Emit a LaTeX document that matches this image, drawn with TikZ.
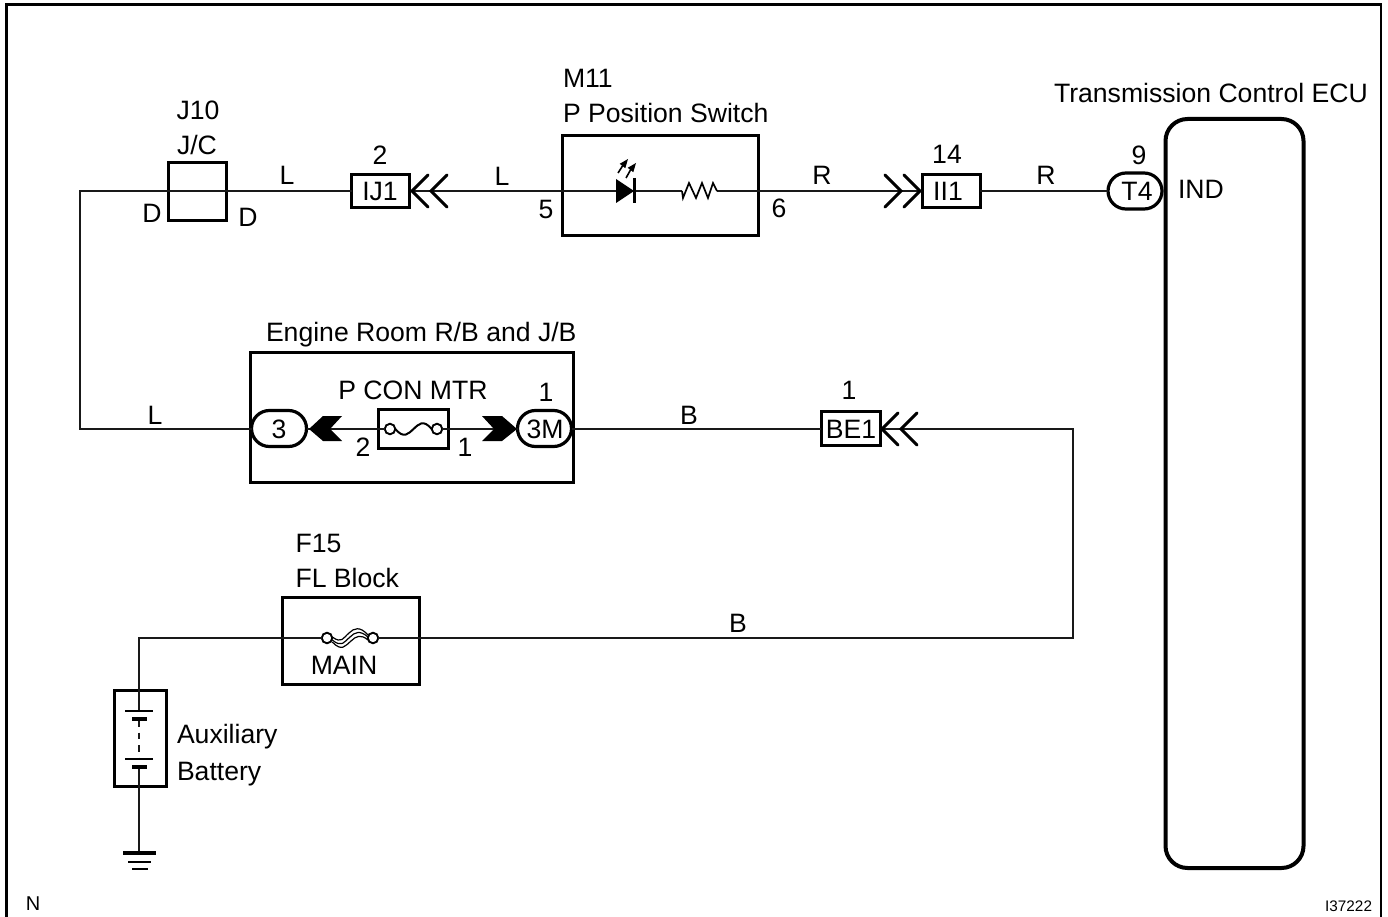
\documentclass[tikz,border=0pt]{standalone}
\usepackage{fontspec}
\setmainfont{Liberation Sans}
\usetikzlibrary{shapes.misc}
\newcommand{\chevL}[2]{\draw[chevline] (#1+16,#2-16) -- (#1,#2) -- (#1+16,#2+16);}
\newcommand{\chevR}[2]{\draw[chevline] (#1-16,#2-16) -- (#1,#2) -- (#1-16,#2+16);}
\tikzset{
  x=1pt,y=-1pt,
  wire/.style={line width=1.9pt,black!90},
  boxn/.style={draw,line width=3pt,outer sep=0pt,inner sep=0pt,rectangle},
  pill/.style={draw,line width=3.2pt,outer sep=0pt,inner sep=0pt,rounded rectangle,rounded rectangle arc length=180},
  lbl/.style={inner sep=0pt,outer sep=0pt,anchor=base,font=\fontsize{26.6}{26.6}\selectfont},
  lbll/.style={lbl,anchor=base west},
  chevline/.style={line width=3pt,line cap=round,line join=miter},
  fuseend/.style={draw,circle,line width=1.9pt,inner sep=0pt,minimum size=10.5pt,outer sep=0pt},
  plate/.style={line width=1.9pt},
  thickplate/.style={line width=4pt},
}
\begin{document}
\begin{tikzpicture}
\useasboundingbox (0,0) rectangle (1388,917);
% frame
\coordinate (fbl) at (6.5,917); \coordinate (ftl) at (6.5,4.5);
\coordinate (ftr) at (1381,4.5); \coordinate (fbr) at (1381,917);
\draw[line width=2.4pt,line join=miter] (fbl) -- (ftl) -- (ftr) -- (fbr);

% boxes
\node[boxn,minimum width=58pt,minimum height=58pt] (j10) at (197.5,191.5) {};
\node[boxn,minimum width=58pt,minimum height=33pt] (ij1) at (380.5,191) {};
\node[boxn,minimum width=196pt,minimum height=100pt] (m11) at (660.5,186) {};
\node[boxn,minimum width=58pt,minimum height=33pt] (ii1) at (951,191) {};
\node[boxn,line width=4pt,rounded corners=22pt,minimum width=138pt,minimum height=749pt] (ecu) at (1234.5,493.5) {};
\node[boxn,minimum width=323pt,minimum height=130pt] (engine) at (411.5,417.5) {};
\node[boxn,minimum width=70pt,minimum height=39pt] (pcon) at (413.5,428.5) {};
\node[boxn,minimum width=59pt,minimum height=34pt] (be1) at (850.5,428.5) {};
\node[boxn,minimum width=137pt,minimum height=87pt] (fl) at (350.5,641) {};
\node[boxn,minimum width=52pt,minimum height=96pt] (batt) at (140.5,738.5) {};
% pills
\node[pill,minimum width=54pt,minimum height=36pt] (t4) at (1135,191) {};
\node[pill,minimum width=55pt,minimum height=36pt] (p3) at (279,428.5) {};
\node[pill,minimum width=54pt,minimum height=36pt] (p3m) at (544.5,428.5) {};

% symbol anchor points
\coordinate (c1) at (80,191);
\coordinate (c2) at (80,429);
\coordinate (ledl) at (616,191);
\coordinate (ledr) at (634,191);
\coordinate (resl) at (682,191);
\coordinate (resr) at (717,191);
\coordinate (c3) at (1073,429);
\coordinate (c4) at (1073,638);
\coordinate (c5) at (139,638);
\coordinate (t1) at (139,711);
\coordinate (d1) at (139,720);
\coordinate (d2) at (139,759);
\coordinate (b2) at (139,767);
\coordinate (gnd) at (139,853);
\node[fuseend] (fa) at (390,429) {};
\node[fuseend] (fb) at (437,429) {};
\node[fuseend] (ma) at (327,638) {};
\node[fuseend] (mb) at (373,638) {};

% wires
\draw[wire] (j10.west |- c1) -- (j10.east |- c1) -- (ij1.west |- c1);
\draw[wire] (j10.west |- c1) -- (c1) -- (c2) -- (p3.west |- c2);
\draw[wire] (ij1.east |- c1) -- (ledl);
\draw[wire] (ledr) -- (resl);
\draw[wire] (resr) -- (ii1.west |- c1);
\draw[wire] (ii1.east |- c1) -- (t4.west |- c1);
\draw[wire] (p3.east |- c2) -- (fa.west);
\draw[wire] (fb.east) -- (p3m.west |- c2);
\draw[wire] (p3m.east |- c2) -- (be1.west |- c2);
\draw[wire] (be1.east |- c2) -- (c3) -- (c4) -- (mb.east);
\draw[wire] (ma.west) -- (c5) -- (t1);
\draw[wire] (b2) -- (gnd);
\draw[wire,dash pattern=on 6.5pt off 6pt] (d1) -- (d2);

% chevrons
\chevL{412}{191}\chevL{431}{191}
\chevR{920}{191}\chevR{901}{191}
\chevL{882}{429}\chevL{901}{429}
% filled arrows
\fill (309,429) -- (323,416) -- (342,416) -- (330,429) -- (342,441) -- (323,441) -- cycle;
\fill (517,429) -- (502,416) -- (482,416) -- (494,429) -- (482,441) -- (502,441) -- cycle;

% LED
\fill (ledl |- 0,179) -- (ledr) -- (ledl |- 0,203) -- cycle;
\draw[line width=3pt] (634,178) -- (634,203.5);
\draw[line width=1.6pt] (618,173) -- (622.5,166);
\fill (628,159) -- (619.7,163.8) -- (625.3,168.2) -- cycle;
\draw[line width=1.6pt] (626,178) -- (630.5,170);
\fill (636,163) -- (627.7,167.8) -- (633.3,172.2) -- cycle;
% resistor
\draw[line width=1.7pt,line join=miter] (resl) -- (683,198) -- (689,183) -- (696,198) -- (702,183) -- (708,198) -- (713,183) -- (resr);
% fuse links
\draw[line width=2pt] (fa.east) .. controls (404,439) and (408,434) .. (413.5,429) .. controls (419,424) and (423,419) .. (fb.west);
\draw[line width=1.2pt] (ma.east) ++(0,2) .. controls (342,648) and (344,642) .. (350,637) .. controls (355,632) and (360,630) .. (368,637);
\draw[line width=1.2pt] (ma.east) ++(0,4) .. controls (342,652) and (345,646) .. (351,641) .. controls (356,636) and (361,634) .. (368,640);
\draw[line width=1.2pt] (ma.east) ++(0,-1) .. controls (342,644) and (343,638) .. (349,633) .. controls (354,628) and (360,626) .. (368,635);

% battery
\draw[plate] (125,711) -- (153,711);
\draw[thickplate] (132,719) -- (147,719);
\draw[plate] (125,759) -- (153,759);
\draw[thickplate] (132,767) -- (147,767);
% ground
\draw[thickplate] (123,853) -- (156,853);
\draw[line width=2.4pt] (128,862) -- (151,862);
\draw[line width=2.4pt] (132,869) -- (148,869);

% labels
\node[lbl] (t01) at (198,119.5) {J10};
\node[lbl] (t02) at (197,154.5) {J/C};
\node[lbl] (t03) at (287,185) {L};
\node[lbl] (t04) at (152,223) {D};
\node[lbl] (t05) at (248,226) {D};
\node[lbl] (t06) at (380,164.5) {2};
\node[lbl] (t07) at (380,201) {IJ1};
\node[lbl] (t08) at (502,186) {L};
\node[lbl] (t09) at (546,218.5) {5};
\node[lbl] (t10) at (779,217.5) {6};
\node[lbl] (t11) at (822,185) {R};
\node[lbl] (t12) at (947,163.5) {14};
\node[lbl] (t13) at (948,201) {II1};
\node[lbl] (t14) at (1046,185) {R};
\node[lbl] (t15) at (1139,165) {9};
\node[lbl] (t16) at (1137,201) {T4};
\node[lbll] (t17) at (1054,102.5) {Transmission Control ECU};
\node[lbll] (t18) at (1178,198.5) {IND};
\node[lbll] (t19) at (563,88) {M11};
\node[lbll] (t20) at (563,123) {P Position Switch};
\node[lbll] (t21) at (266,341.5) {Engine Room R/B and J/B};
\node[lbl] (t22) at (413,399.5) {P CON MTR};
\node[lbl] (t23) at (546,401) {1};
\node[lbl] (t24) at (363,456.5) {2};
\node[lbl] (t25) at (465,456.5) {1};
\node[lbl] (t26) at (279,438) {3};
\node[lbl] (t27) at (545,438) {3M};
\node[lbl] (t28) at (155,424) {L};
\node[lbl] (t29) at (689,424) {B};
\node[lbl] (t30) at (849,399.5) {1};
\node[lbl] (t31) at (851,438) {BE1};
\node[lbll] (t32) at (295.5,552) {F15};
\node[lbll] (t33) at (295.5,587) {FL Block};
\node[lbl] (t34) at (344,674.5) {MAIN};
\node[lbl] (t35) at (738,632.5) {B};
\node[lbll] (t36) at (177,743.5) {Auxiliary};
\node[lbll] (t37) at (177,780) {Battery};
\node[lbl,font=\fontsize{20}{20}\selectfont] (t38) at (33,910) {N};
\node[lbl,anchor=base east,font=\fontsize{15.3}{15.3}\selectfont] (t39) at (1372,911) {I37222};
\end{tikzpicture}
\end{document}
